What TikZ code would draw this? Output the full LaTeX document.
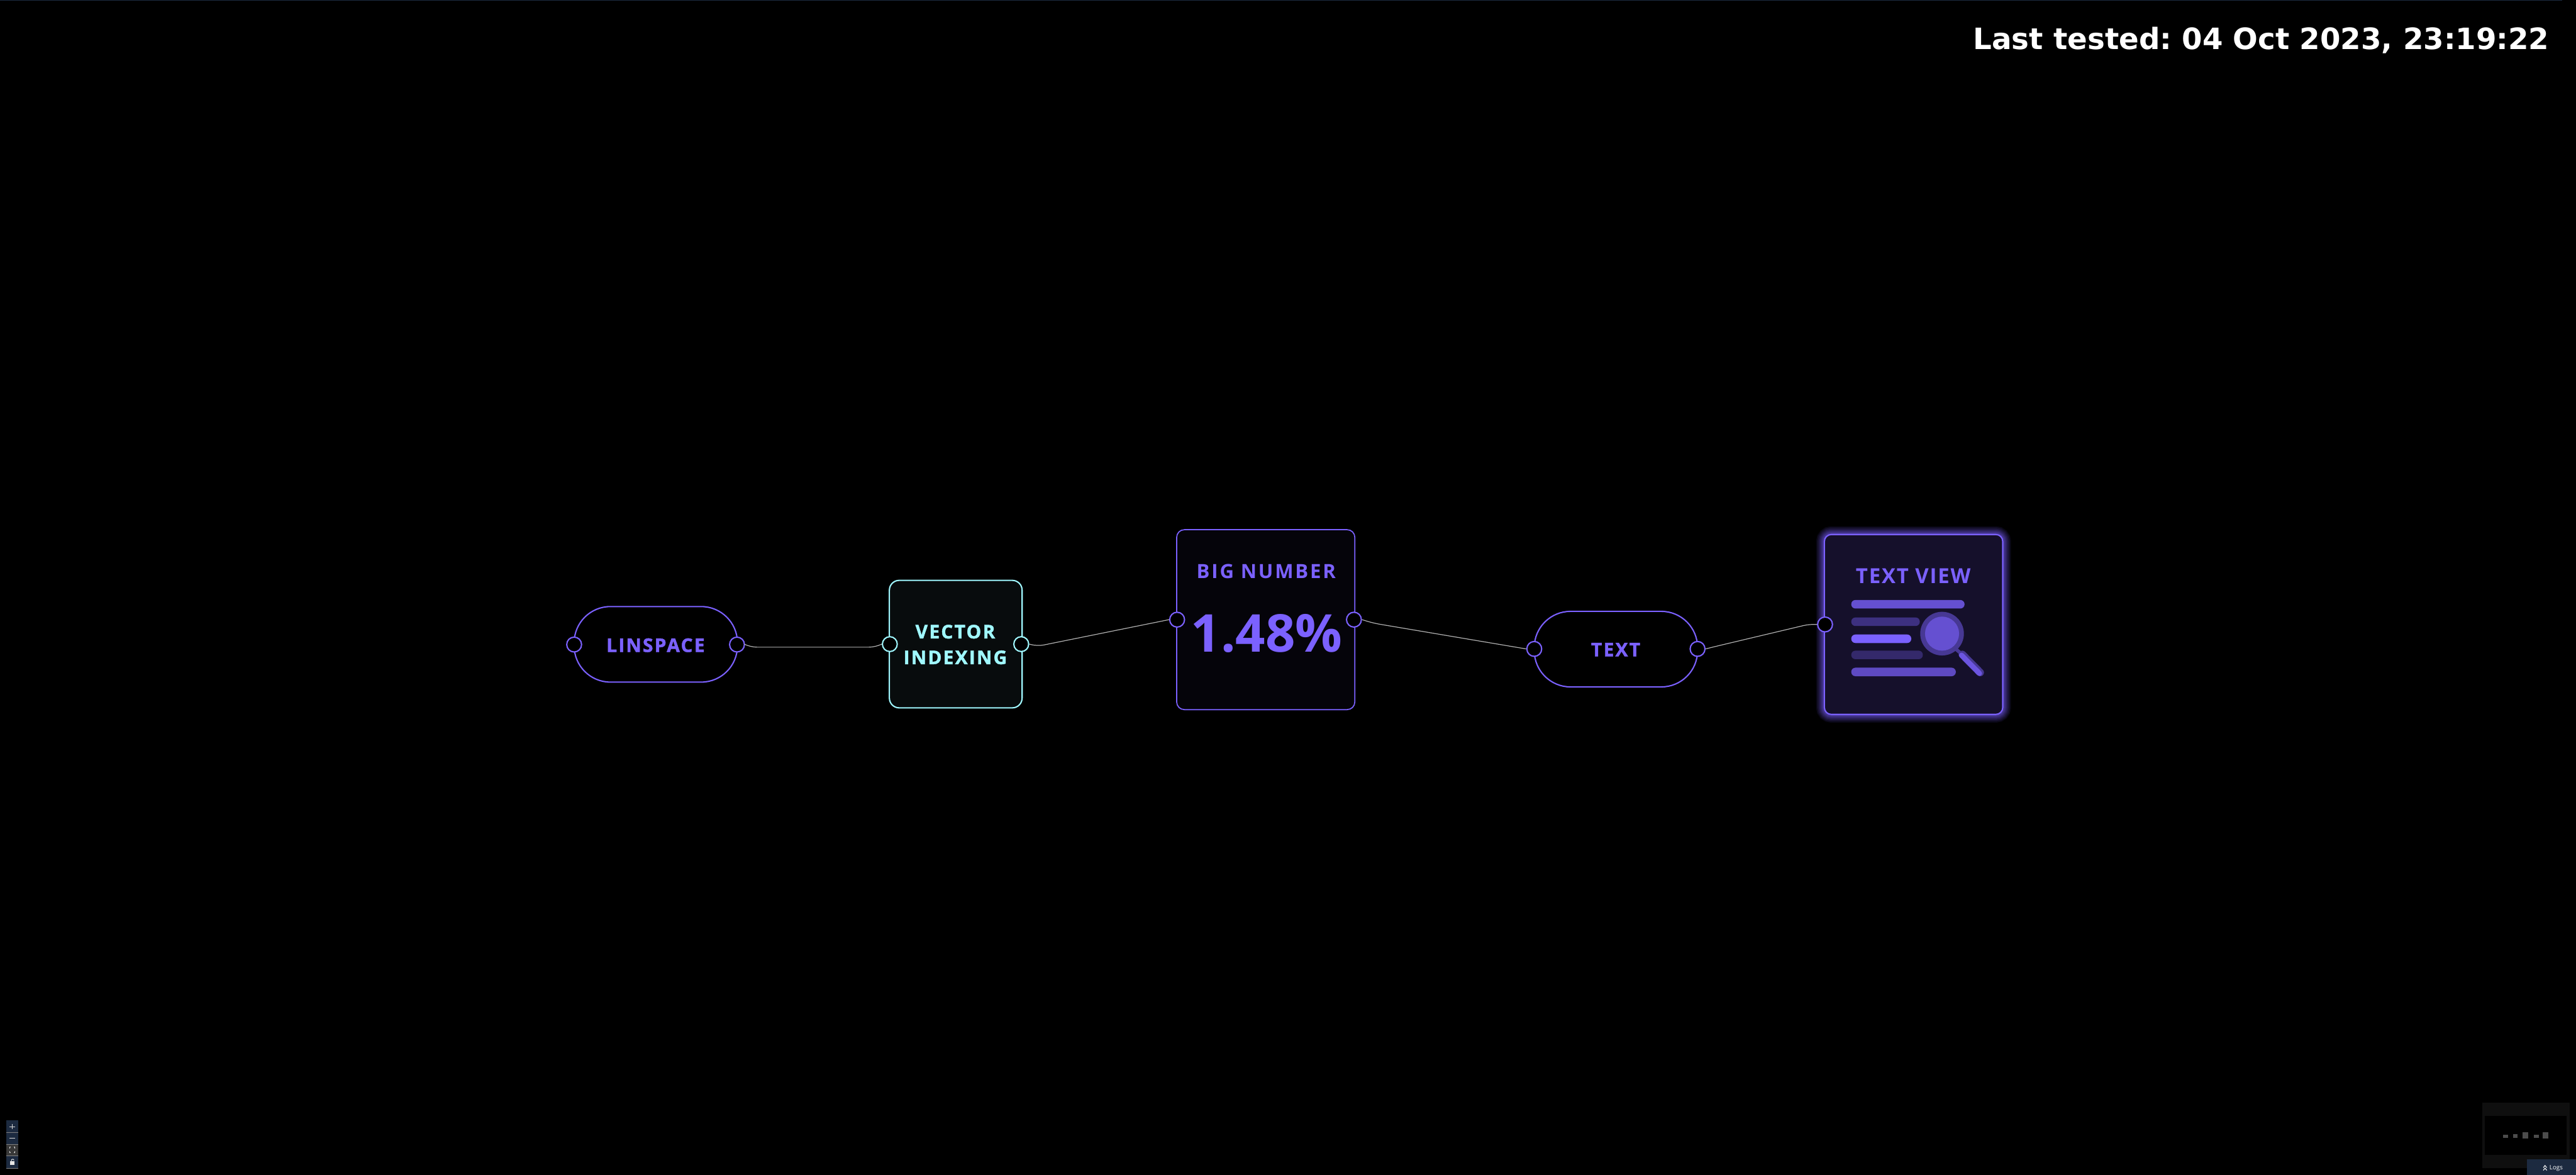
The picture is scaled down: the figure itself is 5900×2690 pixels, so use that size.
\documentclass[tikz,border=0pt]{standalone}
\usepackage{fontspec}
\usepackage{xcolor}
\usetikzlibrary{arrows.meta,positioning}
\newfontfamily\heavyfont[LetterSpace=7.5,BoldFeatures={FakeBold=1.5}]{Open Sans}
\newfontfamily\flowfont[LetterSpace=5.5]{Open Sans}
\newfontfamily\bigfont[LetterSpace=9]{Open Sans}
\newfontfamily\plainfont{Open Sans}
\newfontfamily\stampfont{DejaVu Sans}
\definecolor{flowviolet}{HTML}{7B61FF}
\definecolor{flowcyan}{HTML}{A0F8FF}
\definecolor{wiregray}{HTML}{B1B1B1}
\definecolor{panelnavy}{HTML}{1C2A40}

\begin{document}
\begin{tikzpicture}[x=0.2mm, y=-0.2mm,
  pill/.style={draw=flowviolet, fill=black, line width=0.06cm, rounded corners=1.66cm,
    minimum width=7.48cm, minimum height=3.46cm, inner sep=0pt},
  card/.style={draw=flowviolet, line width=0.05cm, inner sep=0pt},
  port/.style={circle, draw=flowviolet, fill=black, line width=0.06cm, minimum size=0.68cm, inner sep=0pt},
  wire/.style={draw=wiregray, line width=0.035cm, rounded corners=0.3cm},
  title/.style={text=flowviolet, anchor=base, inner sep=0pt, font=\heavyfont\bfseries\fontsize{24.5}{33.5}\selectfont},
  mini/.style={fill=black!70!white},
  panelbtn/.style={fill=panelnavy}]

\useasboundingbox (0,0) rectangle (5900,2690);
\fill[black] (0,0) rectangle (5900,2690);
\fill[panelnavy] (0,0) rectangle (5868,2);

% ---------- stamp (top right) ----------
\node[anchor=base east, text=white, inner sep=0pt, font=\frenchspacing\stampfont\bfseries\fontsize{38.3}{40}\selectfont]
  (stamp) at (5839,113) {Last tested: 04 Oct 2023, 23:19:22};

% ---------- glow of the last card ----------
\foreach \w in {0.76,0.68,0.60,0.52,0.46,0.40,0.35,0.30,0.26,0.22,0.18,0.14,0.10}{
  \draw[flowviolet, opacity=0.07, line width=\w cm, rounded corners=0.32cm]
    (4178.5,1224) rectangle (4587,1636);}

% ---------- cards ----------
\node[pill] (ls) at (1502,1475.5) {};
\node[card, draw=flowcyan, fill=flowcyan!5!black, line width=0.06cm, rounded corners=0.45cm,
  minimum width=6.08cm, minimum height=5.84cm] (vi) at (2189,1475) {};
\node[card, fill=flowviolet!4!black, rounded corners=0.35cm,
  minimum width=8.16cm, minimum height=8.24cm] (bn) at (2899,1419) {};
\node[pill] (tx) at (3701,1486.5) {};
\node[card, fill=flowviolet!17!black, line width=0.06cm, rounded corners=0.32cm,
  minimum width=8.17cm, minimum height=8.24cm] (tv) at (4382.75,1430) {};

% ---------- labels ----------
\node[title] (lslabel) at (1501.5,1493) {LINSPACE};
\node[title, text=flowcyan, anchor=center, align=center] (vilabel) at (2188,1476) {VECTOR\\INDEXING};
\node[title, font=\bigfont\bfseries\fontsize{25.5}{30}\selectfont] (bnlabel) at (2900,1324) {BIG NUMBER};
\node[title, font=\plainfont\bfseries\fontsize{68}{70}\selectfont] (bnvalue) at (2901,1493) {1.48\%};
\node[title] (txlabel) at (3700.5,1503) {TEXT};
\node[title, font=\flowfont\bfseries\fontsize{27}{30}\selectfont] (tvlabel) at (4382,1336) {TEXT VIEW};

% ---------- ports ----------
\node[port] (lsl) at (1315,1476) {};
\node[port] (lsr) at (1688,1476) {};
\node[port, draw=flowcyan] (vil) at (2038,1475) {};
\node[port, draw=flowcyan] (vir) at (2339,1475) {};
\node[port] (bnl) at (2696,1419) {};
\node[port] (bnr) at (3101,1419) {};
\node[port] (txl) at (3514,1486) {};
\node[port] (txr) at (3888,1486) {};
\node[port] (tvl) at (4180,1430) {};

% ---------- wires ----------
\draw[wire] (lsr.east) -- ++(12,6) -- ++(287,0) -- (vil.west);
\draw[wire] (vir.east) -- ++(18,5) -- (bnl.west);
\draw[wire] (bnr.east) -- ++(26,8) -- (txl.west);
\draw[wire] (txr.east) -- ++(24,-6) -- ++(215,-51) -- (tvl.west);

% ---------- text view icon ----------
\foreach \xe/\yt/\col in {4499.5/1374/flowviolet!82!black, 4397/1414/flowviolet!50!black,
  4377.5/1453/flowviolet, 4404/1490/flowviolet!42!black, 4479.5/1529/flowviolet!76!black}{
  \fill[\col, rounded corners=0.19cm] (4240,\yt) rectangle (\xe,\yt+19.5);}
\draw[flowviolet!58!black, line width=0.16cm] (4478,1485) -- (4492,1497);
\fill[flowviolet!58!black] (4448,1451) circle (1cm);
\fill[flowviolet!82!black] (4448,1451) circle (0.78cm);
\draw[flowviolet!58!black, line width=0.34cm, line cap=round] (4494.5,1498.5) -- (4535.5,1540);
\draw[flowviolet!88!black, line width=0.24cm, line cap=round] (4492.5,1500.5) -- (4533.5,1542);

% ---------- zoom buttons (bottom left) ----------
\fill[panelbtn] (14,2566) rectangle (42,2593);
\fill[panelbtn] (14,2593) rectangle (42,2620);
\fill[black!78!white] (14,2620) rectangle (42,2647);
\fill[panelbtn] (14,2647) rectangle (42,2675);
\foreach \yb in {2593,2620,2647,2675}{
  \draw[gray, line width=0.02cm] (14,\yb) -- (42,\yb);}
\draw[white!85!black, line width=0.03cm] (22,2580) -- (34,2580) (28,2574) -- (28,2586);
\draw[white!85!black, line width=0.03cm] (22,2607) -- (34,2607);
\draw[white!85!black, line width=0.03cm] (22,2630) -- (22,2627) -- (25,2627) (31,2627) -- (34,2627) -- (34,2630)
  (34,2636) -- (34,2639) -- (31,2639) (25,2639) -- (22,2639) -- (22,2636);
\fill[white!90!black] (23.5,2659) rectangle (33,2667);
\draw[white!90!black, line width=0.03cm] (26,2659) -- (26,2657) arc (180:360:3 and 2.5);

% ---------- minimap (bottom right) ----------
\fill[black!94!white] (5685,2525) rectangle (5885,2675);
\fill[black] (5691,2555) rectangle (5879,2644);
\fill[mini] (5733,2599) rectangle (5745,2605);
\fill[mini] (5756,2597) rectangle (5766,2606);
\fill[mini] (5777,2593) rectangle (5790,2607);
\fill[mini] (5803,2599) rectangle (5815,2605);
\fill[mini] (5824,2593) rectangle (5837,2607);
\fill[panelnavy] (5788,2654) rectangle (5900,2690);
\draw[white, line width=0.03cm] (5825,2674) -- (5829,2669) -- (5833,2674) (5825,2680) -- (5829,2675) -- (5833,2680);
\node[anchor=base west, text=white, inner sep=0pt, font=\plainfont\fontsize{8}{9}\selectfont]
  (logs) at (5839,2679) {Logs};
\end{tikzpicture}
\end{document}
